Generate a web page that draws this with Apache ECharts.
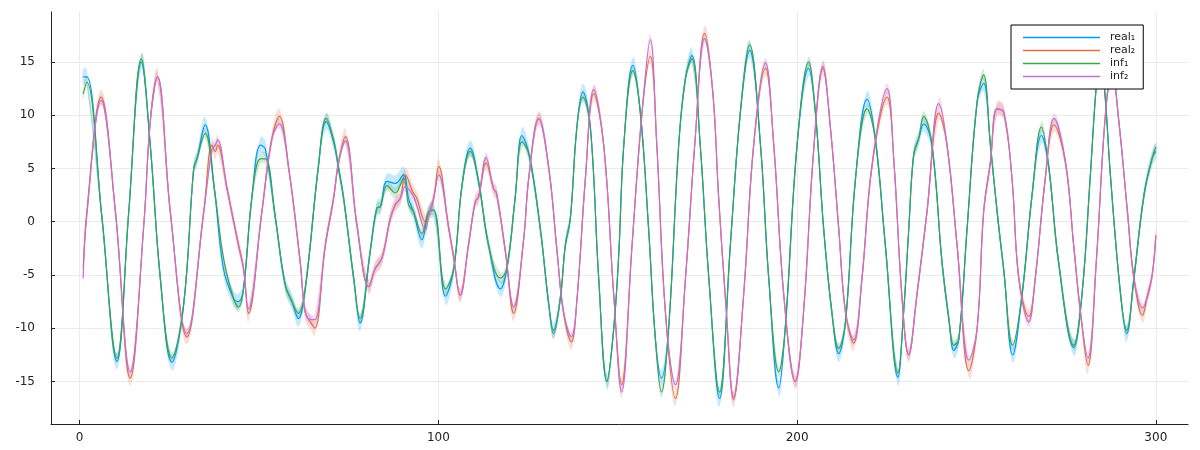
<!DOCTYPE html>
<html><head><meta charset="utf-8">
<script src="https://cdn.jsdelivr.net/npm/echarts@6/dist/echarts.min.js"></script>
<style>html,body{margin:0;padding:0;background:#fff}#c{width:1200px;height:450px}</style>
</head><body><div id="c"></div>
<script>
const seriesNames = ['real\u2081','real\u2082','inf\u2081','inf\u2082'];
const xTicks = [0,100,200,300];
const yTicks = [-15,-10,-5,0,5,10,15];

const x1 = [1,2,6.2,10.4,13.7,17.2,19.7,22.5,25.7,29,
31.8,32.7,35,37.6,40.1,42.9,44.3,45.7,48,50.4,
51.8,54.6,57.3,59.2,61,62.9,66.6,68.7,70.8,72.2,
73.6,76.4,78.2,81,82.9,83.8,85.7,88,90.3,91.7,
93.1,95.4,97.3,98.7,102,104.3,106.6,108.9,111.2,114,
117.3,119.1,121.4,123.3,125.3,128.4,130.8,132.1,134,135.4,
136.8,138.6,140.3,142.4,144.7,147,148.9,150.3,151.7,154.2,
156.3,158.6,160.5,162.2,164.2,167,168.9,170.7,173,175.4,
178.4,181.4,184.2,186.8,189.8,192.1,194.9,196.7,200,203.2,
205.1,207.4,209.7,211.6,213.5,216.3,219.5,221.8,224.6,228.1,
229.7,231.1,232.5,233.9,235.3,237.6,240.4,242.3,243.7,245.1,
247.4,250.2,252,253.9,255.9,257.6,260.1,262.7,265.5,268.1,
270.1,272.9,277.1,279.4,281.7,283.6,284.6,285.7,287.4,290.2,
291.9,293.9,296.7,299,300];
const real1 = [13.6,13.6,0.5,-13.1,0.9,15.0,7.2,-5.3,-13.2,-7.8,
5.0,5.9,9.1,3.0,-4.4,-7.2,-7.5,-6.3,2.2,7.2,
6.8,0.3,-5.9,-7.5,-9.1,-6.3,5.3,9.4,7.5,5.0,
2.2,-5.3,-9.5,-2.8,1.3,1.4,3.8,3.6,4.4,2.2,
0.9,-1.7,0.9,1.1,-7.0,-4.4,3.4,6.9,3.8,-2.2,
-6.3,-4.4,2.2,8.1,6.3,-0.6,-7.8,-10.2,-7.2,-2.2,
0.3,8.8,12.2,8.8,-5.3,-15.0,-10.0,-3.0,7.2,14.7,
10.3,-0.6,-11.0,-14.7,-10.0,7.2,13.5,15.6,7.2,-5.3,
-16.6,-2.2,10.3,16.1,7.2,-5.3,-15.6,-10.0,7.2,14.4,
10.3,-0.6,-8.5,-12.4,-9.4,4.1,11.5,7.8,-2.2,-14.6,
-8.5,-0.9,6.3,7.8,9.2,7.2,-3.8,-9.1,-12.1,-11.0,
-0.6,11.3,13.0,7.2,0.5,-4.5,-12.5,-6.9,2.5,8.1,
5.3,-3.8,-11.8,-6.9,4.1,13.5,15.0,12.5,4.1,-6.9,
-10.5,-5.3,2.5,6.0,6.6];
const inf1 = [12.0,13.1,0.5,-12.8,0.9,15.3,7.2,-5.3,-12.8,-7.8,
5.0,5.9,8.3,3.0,-3.4,-7.2,-8.0,-6.3,2.2,5.9,
5.9,0.3,-5.9,-7.5,-8.6,-6.3,5.3,9.7,7.7,5.0,
2.2,-5.3,-9.1,-2.8,1.3,1.4,3.4,2.7,4.1,1.6,
0.9,-1.1,0.9,1.1,-6.3,-4.4,3.4,6.6,3.8,-2.2,
-5.3,-4.4,2.2,7.5,6.3,-0.6,-7.8,-10.5,-7.2,-2.2,
0.3,8.8,11.7,8.8,-5.3,-15.0,-10.0,-3.0,7.2,14.2,
10.3,-0.6,-11.0,-16.0,-10.0,7.2,13.5,15.3,7.2,-5.3,
-16.0,-2.2,10.3,16.6,7.2,-5.3,-14.1,-10.0,7.2,15.0,
10.3,-0.6,-8.5,-11.9,-9.4,4.1,10.6,7.8,-2.2,-14.2,
-8.5,-0.9,6.3,7.8,9.9,7.2,-3.8,-9.1,-11.6,-11.0,
-0.6,11.3,13.8,7.2,0.5,-4.5,-11.6,-6.9,2.5,8.9,
5.3,-3.8,-11.6,-6.9,4.1,13.5,15.0,12.5,4.1,-6.9,
-10.2,-5.3,2.5,6.0,7.0];

const x2 = [1,2,6,10,14.1,17.9,19.7,21.7,25.3,29.9,
34.6,36.9,37.8,38.5,41.1,44.3,45.7,47.1,50.8,53.6,
55.7,58.3,61.5,62.9,64.5,65.6,68.5,70.8,72.2,74.1,
77.3,80.6,82.4,84.3,86.6,88,89.4,90.8,92.9,94,
96.4,97.3,98.7,100.1,102.9,104.3,106.1,108.4,110.3,111.2,
113.3,115.4,116.2,118.7,121,123.8,125.2,128,130.8,133.1,
134.9,137.1,138.6,141,143.3,146.1,148.9,151.1,154,156.8,
159.1,160.9,163.3,166.1,168.9,171.6,174.2,176.5,178.1,180.2,
182.3,185.1,187.9,191.2,193.5,196.3,199.5,201.8,204.6,207.2,
209.3,211.6,213.5,215.8,218.1,220.9,225.1,227,229.2,231.1,
233.4,236.2,239.5,241.8,244.6,247.9,250.2,252,253.9,255.7,
257.6,259.9,261.8,264.6,266.4,269.2,271.6,274.8,277.1,279,
281.1,283.4,286,287.8,289.7,292.1,293.9,296.3,297.5,299,
300];
const real2 = [-4.4,0.9,11.7,0.9,-14.7,-0.3,9.4,13.6,0.9,-10.8,
0.9,7.2,6.6,7.2,3.1,-2.2,-4.4,-8.6,0.9,7.8,
9.9,5.0,-3.8,-8.5,-9.5,-10.0,-2.2,2.2,5.6,8.0,
-0.3,-6.1,-4.4,-3.4,0.3,1.6,2.2,4.4,2.8,2.2,
0.0,0.6,2.2,5.2,-0.6,-3.4,-6.9,-2.2,1.9,2.3,
5.5,3.1,2.7,-2.8,-8.6,-1.6,4.1,9.7,5.0,-2.8,
-8.5,-11.3,-7.5,4.1,12.0,7.2,-6.9,-15.3,-2.2,10.3,
15.5,7.2,-8.5,-16.6,-5.3,7.8,17.7,12.2,2.5,-8.0,
-16.7,-6.9,7.2,14.4,7.2,-6.9,-15.0,-8.5,6.6,14.4,
8.8,-0.6,-8.5,-11.4,-5.3,5.3,11.7,5.6,-6.9,-12.5,
-6.9,0.9,10.2,7.2,-2.2,-14.0,-10.0,0.9,5.6,10.6,
10.3,4.1,-5.3,-8.9,-5.3,4.1,9.1,5.6,-2.2,-8.5,
-13.5,-3.8,10.3,14.0,9.4,0.9,-5.3,-8.8,-7.2,-5.0,
-1.3];
const inf2 = [-5.3,0.5,11.4,0.9,-14.1,-0.3,9.4,13.6,0.9,-10.5,
0.9,6.8,7.2,7.7,3.1,-2.2,-4.4,-8.2,0.9,7.8,
9.2,5.0,-3.8,-8.5,-9.2,-9.2,-2.2,2.2,5.6,7.6,
-0.3,-6.1,-4.4,-3.4,0.3,1.6,2.2,3.3,2.5,1.5,
-0.8,0.6,2.2,4.4,-0.6,-3.4,-6.9,-2.2,1.9,2.3,
6.0,3.1,2.7,-2.8,-8.0,-1.6,4.1,9.7,5.0,-2.8,
-8.5,-10.8,-7.5,4.1,12.4,7.2,-6.9,-16.0,-2.2,10.3,
17.1,7.2,-8.5,-15.3,-5.3,7.8,17.2,12.2,2.5,-8.0,
-16.5,-6.9,7.2,14.9,7.2,-6.9,-15.0,-8.5,6.6,14.6,
8.8,-0.6,-8.5,-11.1,-5.3,5.3,12.5,5.6,-6.9,-12.5,
-6.9,0.9,11.1,7.2,-2.2,-13.0,-10.0,0.9,5.6,10.6,
10.3,4.1,-5.3,-9.4,-5.3,4.1,9.7,5.6,-2.2,-8.5,
-12.8,-3.8,10.3,14.0,9.4,0.9,-5.3,-8.1,-7.2,-5.0,
-1.3];

// ribbon half-widths (uncertainty band) per series
const bandReal1 = 0.75, bandReal2 = 0.7, bandInf1 = 0.5, bandInf2 = 0.5;

const colors = ['#009AFA','#E36F47','#3EA44E','#C371D2'];
const SMOOTH = 0.4;

function withRibbon(name, xs, ys, w, color){
  return [
    {type:'custom', name:name+'_band', silent:true, clip:true,
     data:[[xs[0], ys[0]]],
     renderItem:function(params, api){
       const upper = xs.map((x,i)=>api.coord([x, ys[i]+w]));
       const lower = xs.map((x,i)=>api.coord([x, ys[i]-w])).reverse();
       return {type:'polygon', shape:{points:upper.concat(lower), smooth:SMOOTH},
               style:{fill:color, opacity:0.22, stroke:null}};
     }},
    {type:'line', name:name, smooth:SMOOTH, symbol:'none',
     data: xs.map((x,i)=>[x, ys[i]]), lineStyle:{color:color, width:1.2}, itemStyle:{color:color}}
  ];
}

const series = [].concat(
  withRibbon(seriesNames[0], x1, real1, bandReal1, colors[0]),
  withRibbon(seriesNames[1], x2, real2, bandReal2, colors[1]),
  withRibbon(seriesNames[2], x1, inf1, bandInf1, colors[2]),
  withRibbon(seriesNames[3], x2, inf2, bandInf2, colors[3])
);

const chart = echarts.init(document.getElementById('c'), null, {renderer:'canvas'});
chart.setOption({
  animation:false,
  backgroundColor:'#fff',
  grid:{left:51, right:12, top:12, bottom:26, containLabel:false},
  xAxis:{type:'value', min:-7.97, max:308.97,
    axisLine:{show:true, onZero:false, lineStyle:{color:'#222', width:1}},
    axisTick:{show:true, inside:true, length:4, customValues:xTicks, lineStyle:{color:'#222'}},
    axisLabel:{customValues:xTicks, color:'#222', fontSize:12, fontFamily:'DejaVu Sans', margin:8},
    splitLine:{show:true, lineStyle:{color:'#ebebeb', width:1}}},
  yAxis:{type:'value', min:-19.0, max:19.7,
    axisLine:{show:true, onZero:false, lineStyle:{color:'#222', width:1}},
    axisTick:{show:true, inside:true, length:4, customValues:yTicks, lineStyle:{color:'#222'}},
    axisLabel:{customValues:yTicks, color:'#222', fontSize:12, fontFamily:'DejaVu Sans', margin:16},
    splitLine:{show:true, lineStyle:{color:'#ebebeb', width:1}}},
  legend:{data:seriesNames.map(n=>({name:n, icon:'rect'})), orient:'vertical', left:1011, top:25,
    itemWidth:77, itemHeight:1.3, itemGap:0,
    padding:[6,8,6,12], backgroundColor:'#fff', borderColor:'#000', borderWidth:1, borderRadius:0,
    textStyle:{fontSize:11, lineHeight:13, fontFamily:'DejaVu Sans', color:'#222', padding:[0,0,0,5]}},
  series: series
});
</script></body></html>
